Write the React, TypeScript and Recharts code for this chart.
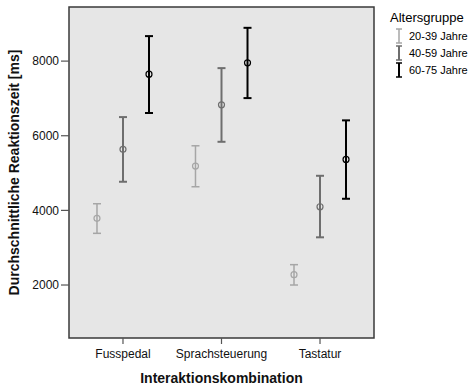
import React from "react";
import { ScatterChart, Scatter, XAxis, YAxis, ErrorBar, ReferenceArea, Label } from "recharts";

const categories = ["Fusspedal", "Sprachsteuerung", "Tastatur"];
const groups = ["20-39 Jahre", "40-59 Jahre", "60-75 Jahre"];
const groupColors = ["#a6a6a6", "#6e6e6e", "#000000"];
const groupWidths = [1.5, 2, 2];
const groupOffsets = [-0.264, 0, 0.264];

const mean2039 = [3787, 5187, 2277];
const low2039 = [3385, 4633, 2000];
const high2039 = [4178, 5731, 2545];

const mean4059 = [5635, 6829, 4097];
const low4059 = [4767, 5838, 3278];
const high4059 = [6500, 7812, 4927];

const mean6075 = [7650, 7955, 5366];
const low6075 = [6610, 7009, 4311];
const high6075 = [8670, 8892, 6412];

const yTicks = [2000, 4000, 6000, 8000];

const build = (means: number[], lows: number[], highs: number[], gi: number) =>
  means.map((m, i) => ({
    x: i + groupOffsets[gi],
    y: m,
    err: [m - lows[i], highs[i] - m],
  }));

const series = [
  build(mean2039, low2039, high2039, 0),
  build(mean4059, low4059, high4059, 1),
  build(mean6075, low6075, high6075, 2),
];

const FONT = "'Liberation Sans', Arial, sans-serif";
const X_DOMAIN: [number, number] = [-0.548, 2.548];
const Y_DOMAIN: [number, number] = [580, 9450];

const circleShape = (color: string) => (props: any) =>
  <circle cx={props.cx} cy={props.cy} r={3} fill="none" stroke={color} strokeWidth={1.2} />;

const LegendBox = () => (
  <div style={{ position: "absolute", left: 390, top: 10, fontFamily: FONT, color: "#000" }}>
    <div style={{ fontSize: 13, lineHeight: "16px", marginBottom: 1 }}>Altersgruppe</div>
    {groups.map((g, i) => (
      <div key={g} style={{ display: "flex", alignItems: "center", height: 17, fontSize: 11 }}>
        <svg width={16} height={16} style={{ marginLeft: 2 }}>
          <line x1={7} x2={7} y1={1} y2={15} stroke={groupColors[i]} strokeWidth={groupWidths[i]} />
          <line x1={4} x2={10} y1={1} y2={1} stroke={groupColors[i]} strokeWidth={1.5} />
          <line x1={4} x2={10} y1={15} y2={15} stroke={groupColors[i]} strokeWidth={1.5} />
        </svg>
        <span style={{ marginLeft: 1 }}>{g}</span>
      </div>
    ))}
  </div>
);

export default function App() {
  return (
    <div style={{ position: "absolute", left: 0, top: 0, width: 476, height: 386, background: "#fff" }}>
      <ScatterChart width={476} height={386} margin={{ top: 7, right: 102, bottom: 0, left: 0 }}>
        <ReferenceArea
          x1={X_DOMAIN[0]}
          x2={X_DOMAIN[1]}
          y1={Y_DOMAIN[0]}
          y2={Y_DOMAIN[1]}
          fill="#e6e6e6"
          fillOpacity={1}
          stroke="#3a3a3a"
          strokeWidth={1.5}
          ifOverflow="visible"
        />
        <XAxis
          type="number"
          dataKey="x"
          domain={X_DOMAIN}
          ticks={[0, 1, 2]}
          tickFormatter={(v: number) => categories[Math.round(v)]}
          axisLine={false}
          tickLine={{ stroke: "#555", strokeWidth: 1.2 }}
          tickSize={6}
          tickMargin={5}
          tick={{ fill: "#111", fontSize: 12, fontFamily: FONT }}
          allowDataOverflow
          interval={0}
          height={48}
        >
          <Label
            value="Interaktionskombination"
            position="insideBottom"
            offset={3}
            style={{ fontSize: 14, fontWeight: "bold", fill: "#111", fontFamily: FONT }}
          />
        </XAxis>
        <YAxis
          type="number"
          dataKey="y"
          domain={Y_DOMAIN}
          ticks={yTicks}
          axisLine={false}
          tickLine={{ stroke: "#555", strokeWidth: 1.2 }}
          tickSize={8}
          tick={{ fill: "#111", fontSize: 12, fontFamily: FONT }}
          allowDataOverflow
          width={69}
        >
          <Label
            value="Durchschnittliche Reaktionszeit [ms]"
            angle={-90}
            position="insideLeft"
            offset={14}
            style={{ fontSize: 14, fontWeight: "bold", fill: "#111", fontFamily: FONT, textAnchor: "middle" }}
          />
        </YAxis>
        {series.map((data, gi) => (
          <Scatter
            key={groups[gi]}
            name={groups[gi]}
            data={data}
            isAnimationActive={false}
            shape={circleShape(groupColors[gi])}
          >
            <ErrorBar
              dataKey="err"
              direction="y"
              width={4}
              stroke={groupColors[gi]}
              strokeWidth={groupWidths[gi]}
            />
          </Scatter>
        ))}
      </ScatterChart>
      <LegendBox />
    </div>
  );
}
